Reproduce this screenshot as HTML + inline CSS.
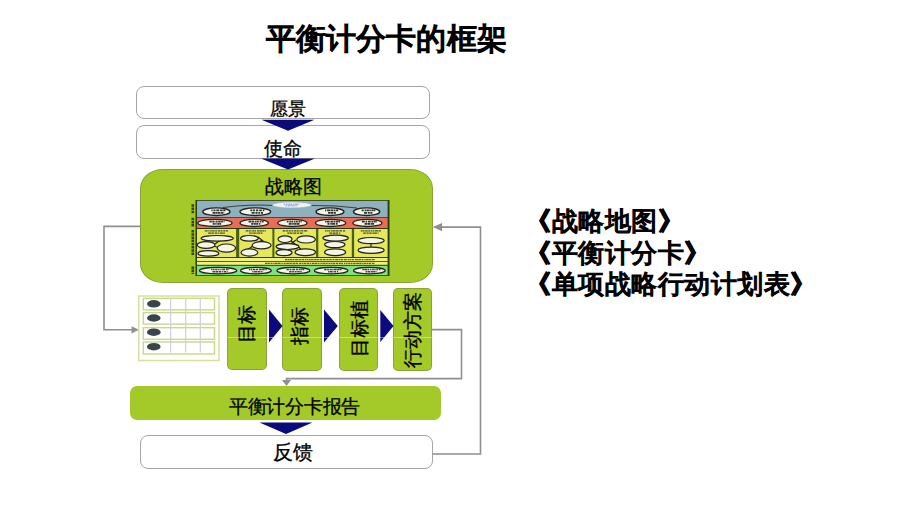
<!DOCTYPE html>
<html><head><meta charset="utf-8">
<style>
html,body{margin:0;padding:0;background:#fff;}
body{width:900px;height:506px;position:relative;overflow:hidden;font-family:"Liberation Sans",sans-serif;color:#000;}
.a{position:absolute;}
.t{position:absolute;white-space:nowrap;line-height:1;}
.wbox{position:absolute;background:#fff;border:1.3px solid #a6a6a6;box-sizing:border-box;border-radius:8px;}
.gbox{position:absolute;background:#a4ca2a;box-sizing:border-box;border:1px solid rgba(120,130,70,0.55);}
.vt{position:absolute;white-space:nowrap;line-height:1;font-size:19px;transform-origin:0 0;-webkit-text-stroke:0.35px #000;}
.line{position:absolute;left:227px;top:337px;width:205px;height:1px;background:rgba(235,255,200,0.45);}
</style></head>
<body>
<!-- title -->
<div class="t" style="left:266px;top:24.2px;font-size:29.6px;letter-spacing:0.1px;-webkit-text-stroke:1.5px #000;">平衡计分卡的框架</div>

<!-- vision / mission -->
<div class="wbox" style="left:136px;top:86px;width:294px;height:33px;"></div>
<div class="wbox" style="left:136px;top:125px;width:294px;height:34px;"></div>
<div class="gbox" style="left:139.5px;top:169.2px;width:293.3px;height:114px;border-radius:23px / 19px;"></div>
<div class="gbox" style="left:130px;top:386px;width:311px;height:34px;border-radius:7px;border:none;"></div>
<div class="wbox" style="left:140px;top:435.2px;width:293px;height:33.5px;"></div>

<!-- green vertical boxes -->
<div class="gbox" style="left:227px;top:288px;width:40px;height:82px;border-radius:5px;"></div>
<div class="gbox" style="left:282px;top:288px;width:40px;height:82.5px;border-radius:5px;"></div>
<div class="gbox" style="left:339px;top:288px;width:39px;height:82.5px;border-radius:5px;"></div>
<div class="gbox" style="left:393px;top:288px;width:39px;height:82.5px;border-radius:5px;"></div>

<svg class="a" style="left:0;top:0" width="900" height="506" viewBox="0 0 900 506">
  <!-- navy down arrows -->
  <path d="M261.5 119.8 L314.5 119.8 L288 130.8 Z" fill="#0a0a7c"/>
  <path d="M261 158.5 L315 158.5 L288 169.5 Z" fill="#0a0a7c"/>
  <path d="M259.5 422.5 L312.5 422.5 L286 434 Z" fill="#0a0a7c"/>
  <!-- right arrows -->
  <path d="M269 309.5 L282.5 326 L269 342.5 Z" fill="#0a0a7c"/>
  <path d="M324 309.5 L337.8 326 L324 342.5 Z" fill="#0a0a7c"/>
  <path d="M380.3 310 L393.5 326 L380.3 342 Z" fill="#0a0a7c"/>
  <!-- connectors -->
  <g fill="none" stroke="#8f8f8f" stroke-width="1.6">
    <path d="M140 226.4 H104 V329.8 H132"/>
    <path d="M432.5 454 H480.5 V227.1 H441"/>
    <path d="M432 329.6 H461.5 V378.6 H286.5 V381"/>
  </g>
  <path d="M131.5 326.2 L139 329.8 L131.5 333.4 Z" fill="#8f8f8f"/>
  <path d="M442 223 L432.7 227.1 L442 231.2 Z" fill="#8f8f8f"/>
  <path d="M282 380 L291 380 L286.5 386 Z" fill="#8f8f8f"/>

  <!-- table icon -->
  <rect x="138.8" y="296" width="80.2" height="64.5" fill="#fff" stroke="#d4e29c" stroke-width="1.5"/>
  <g fill="none" stroke="#c9d88c" stroke-width="1.4">
    <rect x="143.3" y="298.3" width="71.2" height="11.6"/>
    <rect x="143.3" y="312.6" width="71.2" height="11.5"/>
    <rect x="143.3" y="327.7" width="71.2" height="11.6"/>
    <rect x="143.3" y="342" width="71.2" height="12"/>
  </g>
  <g stroke="#cfcfdc" stroke-width="1.2">
    <line x1="170.6" y1="298" x2="170.6" y2="352.6"/>
    <line x1="185.7" y1="298" x2="185.7" y2="352.6"/>
    <line x1="200.3" y1="298" x2="200.3" y2="352.6"/>
  </g>
  <g fill="#3a444e">
    <ellipse cx="153.8" cy="303.8" rx="6.8" ry="3.7"/>
    <ellipse cx="153.8" cy="318" rx="6.8" ry="3.7"/>
    <ellipse cx="153.8" cy="332.2" rx="6.8" ry="3.7"/>
    <ellipse cx="153.8" cy="346.7" rx="6.8" ry="3.7"/>
  </g>

  <!-- strategy map -->
  <g id="map">
<rect x="195.5" y="200" width="194" height="76" fill="#2b3a10"/>
<rect x="197" y="200.8" width="190.6" height="16.4" fill="#8fb1bd"/>
<rect x="197" y="218" width="190.6" height="10" fill="#e96d54"/>
<rect x="197" y="229" width="190.6" height="28" fill="#e4e85a"/>
<rect x="197" y="258" width="190.6" height="3.2" fill="#eef27a"/>
<rect x="197" y="262" width="190.6" height="2.8" fill="#eef27a"/>
<rect x="197" y="265.8" width="190.6" height="9.4" fill="#7fe07c"/>
<rect x="236.1" y="229" width="3.1" height="28" fill="#4c5e12"/>
<rect x="272.4" y="229" width="2.0" height="28" fill="#4c5e12"/>
<rect x="316.1" y="229" width="2.2" height="28" fill="#4c5e12"/>
<rect x="351.8" y="229" width="2.3" height="28" fill="#4c5e12"/>
<path d="M192.8 204.3V213.2" stroke="#2a3408" stroke-width="2.6" stroke-dasharray="2.5 0.7" opacity="0.9"/>
<path d="M192.8 217.7V226.5" stroke="#2a3408" stroke-width="2.6" stroke-dasharray="2.5 0.7" opacity="0.9"/>
<path d="M192.8 230.0V255.5" stroke="#2a3408" stroke-width="2.6" stroke-dasharray="2.5 0.7" opacity="0.9"/>
<path d="M192.8 266.4V274.0" stroke="#2a3408" stroke-width="2.6" stroke-dasharray="2.5 0.7" opacity="0.9"/>
<path d="M274 205.5 Q250 204 223 207.5 M311 205.5 Q335 205 357 208" fill="none" stroke="#222" stroke-width="0.8"/>
<ellipse cx="291.9" cy="205.0" rx="19.7" ry="2.9" fill="#f2f2f2" stroke="#8fb1bd" stroke-width="0.5"/>
<path d="M283.5 204.2H285.1M285.8 204.2H287.6M288.3 204.2H290.6M290.9 204.2H292.2M293.0 204.2H294.6M295.1 204.2H298.1M298.7 204.2H299.5M285.6 205.8H287.0M287.7 205.8H290.5M291.1 205.8H293.6M294.3 205.8H295.6M296.4 205.8H297.4" stroke="#4f6fd0" stroke-width="1.0" opacity="0.7" fill="none"/>
<ellipse cx="216.4" cy="211.7" rx="13.6" ry="3.8" fill="#f5f5e6" stroke="#222" stroke-width="1.4"/>
<path d="M211.4 210.3H212.7M213.5 210.3H215.5M216.3 210.3H219.0M219.8 210.3H222.6M223.2 210.3H225.4M212.6 212.9H215.4M215.7 212.9H217.2M217.6 212.9H220.5M221.1 212.9H223.4M223.9 212.9H224.2" stroke="#1e1e1e" stroke-width="1.8" opacity="0.92" fill="none"/>
<ellipse cx="255.3" cy="211.7" rx="15.3" ry="3.8" fill="#f5f5e6" stroke="#222" stroke-width="1.4"/>
<path d="M250.3 210.3H252.1M252.8 210.3H255.0M255.9 210.3H258.3M259.2 210.3H261.9M262.8 210.3H264.3M251.6 212.9H254.6M255.4 212.9H257.6M258.4 212.9H260.0M260.8 212.9H263.0" stroke="#1e1e1e" stroke-width="1.8" opacity="0.92" fill="none"/>
<ellipse cx="330.0" cy="211.7" rx="13.9" ry="3.8" fill="#f5f5e6" stroke="#222" stroke-width="1.4"/>
<path d="M325.0 210.3H326.3M327.1 210.3H330.1M330.5 210.3H333.1M333.6 210.3H335.1M335.6 210.3H338.2M328.1 212.9H330.4M330.7 212.9H333.2M333.7 212.9H335.9" stroke="#1e1e1e" stroke-width="1.8" opacity="0.92" fill="none"/>
<ellipse cx="366.6" cy="211.7" rx="13.1" ry="3.8" fill="#f5f5e6" stroke="#222" stroke-width="1.4"/>
<path d="M361.6 210.3H363.7M364.6 210.3H366.3M366.7 210.3H368.9M369.3 210.3H370.8M371.4 210.3H373.7M374.1 210.3H375.3M364.0 212.9H367.0M367.8 212.9H369.7M370.3 212.9H372.4" stroke="#1e1e1e" stroke-width="1.8" opacity="0.92" fill="none"/>
<ellipse cx="214.9" cy="222.9" rx="17.1" ry="3.6" fill="#f5f5e6" stroke="#222" stroke-width="1.3"/>
<path d="M209.4 221.7H211.7M212.3 221.7H214.6M215.5 221.7H217.6M218.2 221.7H220.7M221.1 221.7H222.8M223.7 221.7H224.4M212.7 223.9H214.7M215.3 223.9H216.6M217.3 223.9H219.6M219.9 223.9H221.1" stroke="#1e1e1e" stroke-width="1.7" opacity="0.92" fill="none"/>
<ellipse cx="254.2" cy="222.9" rx="14.2" ry="3.6" fill="#f5f5e6" stroke="#222" stroke-width="1.3"/>
<path d="M248.6 221.7H251.1M251.6 221.7H254.1M254.8 221.7H256.0M256.4 221.7H258.8M259.7 221.7H261.3M261.9 221.7H263.6M251.2 223.9H253.0M253.5 223.9H255.8M256.2 223.9H258.1M258.9 223.9H260.1M260.8 223.9H261.1" stroke="#1e1e1e" stroke-width="1.7" opacity="0.92" fill="none"/>
<ellipse cx="292.4" cy="222.9" rx="14.6" ry="3.6" fill="#f5f5e6" stroke="#222" stroke-width="1.3"/>
<path d="M286.9 221.7H288.5M289.3 221.7H290.9M291.3 221.7H293.3M294.0 221.7H295.4M295.9 221.7H297.7M298.5 221.7H300.5M301.3 221.7H301.9M288.8 223.9H291.6M292.2 223.9H293.8M294.2 223.9H296.3M296.7 223.9H299.4" stroke="#1e1e1e" stroke-width="1.7" opacity="0.92" fill="none"/>
<ellipse cx="330.6" cy="222.9" rx="15.1" ry="3.6" fill="#f5f5e6" stroke="#222" stroke-width="1.3"/>
<path d="M325.1 221.7H326.6M327.0 221.7H329.7M330.4 221.7H333.0M333.5 221.7H335.0M335.5 221.7H338.1M338.5 221.7H340.1M327.5 223.9H329.4M330.3 223.9H331.8M332.1 223.9H335.0M335.8 223.9H337.6" stroke="#1e1e1e" stroke-width="1.7" opacity="0.92" fill="none"/>
<ellipse cx="367.4" cy="222.9" rx="14.5" ry="3.6" fill="#f5f5e6" stroke="#222" stroke-width="1.3"/>
<path d="M361.9 221.7H364.8M365.6 221.7H367.2M368.0 221.7H370.7M371.4 221.7H373.5M374.0 221.7H375.8M376.2 221.7H376.9M364.6 223.9H367.2M367.6 223.9H370.4M371.1 223.9H374.0" stroke="#1e1e1e" stroke-width="1.7" opacity="0.92" fill="none"/>
<path d="M204.8 230.8H207.6M208.3 230.8H209.5M210.2 230.8H211.7M212.2 230.8H214.6M215.2 230.8H217.2M218.0 230.8H220.3M220.8 230.8H222.5M223.3 230.8H225.4M226.1 230.8H228.0M208.2 233.2H210.9M211.3 233.2H213.9M214.7 233.2H217.4M218.2 233.2H219.4M220.1 233.2H222.8M223.2 233.2H224.8" stroke="#1e1e1e" stroke-width="1.3" opacity="0.8" fill="none"/>
<path d="M245.8 230.8H248.0M248.5 230.8H250.6M251.4 230.8H252.6M252.9 230.8H254.3M254.7 230.8H256.0M256.9 230.8H259.6M260.0 230.8H262.1M262.6 230.8H264.4M264.9 230.8H265.8M249.2 233.2H250.8M251.3 233.2H252.7M253.3 233.2H255.8M256.4 233.2H257.7M258.1 233.2H260.0M260.6 233.2H262.4" stroke="#1e1e1e" stroke-width="1.3" opacity="0.8" fill="none"/>
<path d="M282.7 230.8H285.4M286.1 230.8H288.0M288.6 230.8H290.6M291.4 230.8H293.3M294.0 230.8H296.1M296.5 230.8H298.7M299.4 230.8H300.7M301.3 230.8H303.3M304.1 230.8H307.0M307.5 230.8H307.8M287.4 233.2H289.4M289.8 233.2H292.5M293.2 233.2H296.0M296.7 233.2H299.1M299.9 233.2H302.1M302.4 233.2H303.1" stroke="#1e1e1e" stroke-width="1.3" opacity="0.8" fill="none"/>
<path d="M325.0 230.8H326.5M327.2 230.8H328.5M328.9 230.8H330.2M331.1 230.8H332.6M332.9 230.8H335.6M336.0 230.8H338.7M339.4 230.8H342.1M343.0 230.8H345.1M329.4 233.2H332.0M332.6 233.2H335.1M335.5 233.2H338.0M338.9 233.2H340.2M340.7 233.2H340.7" stroke="#1e1e1e" stroke-width="1.3" opacity="0.8" fill="none"/>
<path d="M360.8 230.8H362.4M362.8 230.8H364.5M365.2 230.8H367.7M368.3 230.8H370.1M370.7 230.8H372.5M373.0 230.8H374.4M375.0 230.8H377.9M378.5 230.8H380.9M363.2 233.2H365.8M366.5 233.2H368.6M369.2 233.2H371.6M372.4 233.2H373.9M374.2 233.2H376.8M377.6 233.2H378.5" stroke="#1e1e1e" stroke-width="1.3" opacity="0.8" fill="none"/>
<path d="M215 244 L226 236 M213 246 L232 251 M244 252 L262 240 M258 237 L268 245 M280 252 L296 240 M290 240 L302 250 M371 243.7 V247" fill="none" stroke="#222" stroke-width="1.1"/>
<ellipse cx="217.2" cy="238.3" rx="16.1" ry="2.8" fill="#f5f5e6" stroke="#222" stroke-width="1.2"/>
<ellipse cx="206.1" cy="245.0" rx="8.9" ry="3.3" fill="#f5f5e6" stroke="#222" stroke-width="1.2"/>
<ellipse cx="226.4" cy="248.1" rx="9.2" ry="4.1" fill="#f5f5e6" stroke="#222" stroke-width="1.2"/>
<ellipse cx="208.4" cy="253.4" rx="10.5" ry="2.8" fill="#f5f5e6" stroke="#222" stroke-width="1.2"/>
<ellipse cx="249.4" cy="238.3" rx="8.9" ry="2.8" fill="#f5f5e6" stroke="#222" stroke-width="1.2"/>
<ellipse cx="261.6" cy="245.3" rx="9.5" ry="3.6" fill="#f5f5e6" stroke="#222" stroke-width="1.2"/>
<ellipse cx="249.4" cy="252.5" rx="8.4" ry="3.6" fill="#f5f5e6" stroke="#222" stroke-width="1.2"/>
<ellipse cx="285.0" cy="239.2" rx="7.0" ry="3.3" fill="#f5f5e6" stroke="#222" stroke-width="1.2"/>
<ellipse cx="306.1" cy="239.4" rx="9.3" ry="3.6" fill="#f5f5e6" stroke="#222" stroke-width="1.2"/>
<ellipse cx="287.5" cy="246.6" rx="11.5" ry="2.9" fill="#f5f5e6" stroke="#222" stroke-width="1.2"/>
<ellipse cx="305.3" cy="252.2" rx="10.2" ry="3.4" fill="#f5f5e6" stroke="#222" stroke-width="1.2"/>
<ellipse cx="284.0" cy="252.6" rx="8.0" ry="3.0" fill="#f5f5e6" stroke="#222" stroke-width="1.2"/>
<ellipse cx="335.6" cy="238.1" rx="12.8" ry="2.9" fill="#f5f5e6" stroke="#222" stroke-width="1.2"/>
<ellipse cx="334.8" cy="244.6" rx="10.2" ry="3.1" fill="#f5f5e6" stroke="#222" stroke-width="1.2"/>
<ellipse cx="335.1" cy="252.2" rx="10.5" ry="3.4" fill="#f5f5e6" stroke="#222" stroke-width="1.2"/>
<ellipse cx="371.1" cy="240.6" rx="13.1" ry="3.1" fill="#f5f5e6" stroke="#222" stroke-width="1.2"/>
<ellipse cx="371.1" cy="250.2" rx="13.1" ry="3.1" fill="#f5f5e6" stroke="#222" stroke-width="1.2"/>
<path d="M285.0 259.6H287.5M287.9 259.6H289.6M290.0 259.6H292.3M292.7 259.6H294.4M295.1 259.6H298.0M298.5 259.6H300.9M301.5 259.6H304.2M304.9 259.6H306.6M307.0 259.6H308.2M308.8 259.6H310.7M311.1 259.6H313.0M313.5 259.6H316.0M316.4 259.6H319.4M320.0 259.6H322.3M322.9 259.6H325.6M326.4 259.6H328.6M329.2 259.6H331.7M332.5 259.6H334.4M335.1 259.6H338.1M338.6 259.6H340.2M340.7 259.6H343.2M343.9 259.6H346.8M347.6 259.6H349.3M349.7 259.6H351.3M351.8 259.6H354.2M355.0 259.6H357.9M358.3 259.6H361.1M361.6 259.6H363.5M364.3 259.6H365.6M366.0 259.6H368.7M369.1 259.6H371.0M371.6 259.6H374.0M374.3 259.6H375.0" stroke="#1e1e1e" stroke-width="1.2" opacity="0.7" fill="none"/>
<path d="M265.0 263.4H267.1M267.5 263.4H269.8M270.6 263.4H272.5M273.2 263.4H274.6M275.0 263.4H277.4M277.8 263.4H280.6M281.4 263.4H282.8M283.7 263.4H285.6M286.3 263.4H288.9M289.4 263.4H291.8M292.5 263.4H295.1M295.6 263.4H298.1M299.0 263.4H301.4M302.0 263.4H303.5M304.0 263.4H305.9M306.6 263.4H309.0M309.7 263.4H311.2M311.9 263.4H314.2M314.6 263.4H317.4M318.1 263.4H319.5M320.4 263.4H321.9M322.4 263.4H324.9M325.5 263.4H327.7M328.4 263.4H330.4M330.9 263.4H332.4M332.8 263.4H335.3M336.0 263.4H338.2M338.9 263.4H340.8M341.2 263.4H343.1M344.0 263.4H345.2M345.8 263.4H347.5M348.2 263.4H350.1M350.6 263.4H352.5M353.1 263.4H355.7M356.2 263.4H359.0M359.3 263.4H361.0M361.4 263.4H362.8M363.5 263.4H366.0M366.5 263.4H368.0M368.5 263.4H371.1M371.9 263.4H374.4" stroke="#1e1e1e" stroke-width="1.2" opacity="0.7" fill="none"/>
<ellipse cx="218.1" cy="270.6" rx="18.6" ry="3.2" fill="#f5f5e6" stroke="#222" stroke-width="1.3"/>
<path d="M211.1 269.5H212.5M213.1 269.5H214.6M215.2 269.5H217.4M217.9 269.5H219.5M220.3 269.5H221.5M222.3 269.5H225.1M226.0 269.5H227.9M228.5 269.5H229.1M212.5 271.7H214.9M215.4 271.7H218.1M218.7 271.7H221.0M221.7 271.7H222.9M223.7 271.7H226.1M226.7 271.7H227.6" stroke="#1e1e1e" stroke-width="1.5" opacity="0.85" fill="none"/>
<ellipse cx="255.9" cy="270.6" rx="15.3" ry="3.2" fill="#f5f5e6" stroke="#222" stroke-width="1.3"/>
<path d="M248.9 269.5H250.4M251.0 269.5H252.3M252.9 269.5H255.2M255.8 269.5H258.0M258.9 269.5H261.7M262.1 269.5H264.7M265.4 269.5H266.7M252.3 271.7H253.6M254.2 271.7H257.1M257.6 271.7H260.4M261.1 271.7H262.5M263.3 271.7H263.4" stroke="#1e1e1e" stroke-width="1.5" opacity="0.85" fill="none"/>
<ellipse cx="293.4" cy="270.6" rx="16.4" ry="3.2" fill="#f5f5e6" stroke="#222" stroke-width="1.3"/>
<path d="M286.4 269.5H288.9M289.6 269.5H291.5M292.2 269.5H295.1M295.9 269.5H297.9M298.7 269.5H300.7M301.1 269.5H302.4M302.7 269.5H304.3M289.1 271.7H291.6M292.2 271.7H294.1M294.8 271.7H296.6M297.2 271.7H299.7M300.3 271.7H301.7" stroke="#1e1e1e" stroke-width="1.5" opacity="0.85" fill="none"/>
<ellipse cx="331.1" cy="270.6" rx="16.7" ry="3.2" fill="#f5f5e6" stroke="#222" stroke-width="1.3"/>
<path d="M324.1 269.5H326.6M327.1 269.5H329.0M329.6 269.5H331.9M332.3 269.5H333.5M333.9 269.5H336.5M336.9 269.5H339.0M339.4 269.5H341.0M341.4 269.5H342.1M328.1 271.7H329.5M329.9 271.7H332.0M332.3 271.7H333.5M334.1 271.7H336.0M336.8 271.7H338.1" stroke="#1e1e1e" stroke-width="1.5" opacity="0.85" fill="none"/>
<ellipse cx="369.4" cy="270.6" rx="15.8" ry="3.2" fill="#f5f5e6" stroke="#222" stroke-width="1.3"/>
<path d="M362.4 269.5H364.3M364.6 269.5H367.5M367.9 269.5H369.3M369.9 269.5H371.4M372.1 269.5H373.9M374.3 269.5H375.6M376.3 269.5H378.0M378.8 269.5H380.4M365.6 271.7H367.2M367.7 271.7H370.4M371.0 271.7H372.9M373.2 271.7H375.6M376.5 271.7H377.1" stroke="#1e1e1e" stroke-width="1.5" opacity="0.85" fill="none"/>
</g>
</svg>

<!-- texts -->
<div class="t" style="-webkit-text-stroke:0.3px #000;left:270px;top:100px;font-size:18px;">愿景</div>
<div class="t" style="-webkit-text-stroke:0.3px #000;left:264px;top:139px;font-size:19px;">使命</div>
<div class="t" style="-webkit-text-stroke:0.3px #000;left:265px;top:178px;font-size:18.5px;">战略图</div>
<div class="t" style="-webkit-text-stroke:0.3px #000;left:229px;top:397.5px;font-size:18.5px;letter-spacing:-0.3px;">平衡计分卡报告</div>
<div class="t" style="-webkit-text-stroke:0.3px #000;left:273px;top:442px;font-size:20px;">反馈</div>

<div class="vt" style="left:237px;top:343px;transform:rotate(-90deg);">目标</div>
<div class="vt" style="left:290px;top:345px;transform:rotate(-90deg);">指标</div>
<div class="vt" style="left:350px;top:356.5px;transform:rotate(-90deg);">目标植</div>
<div class="vt" style="left:403px;top:368px;transform:rotate(-90deg);">行动方案</div>
<div class="line"></div>

<div class="t" style="left:525px;top:206px;font-size:26px;line-height:31.6px;letter-spacing:0.5px;-webkit-text-stroke:1.3px #000;">《战略地图》<br>《平衡计分卡》<br>《单项战略行动计划表》</div>
</body></html>
